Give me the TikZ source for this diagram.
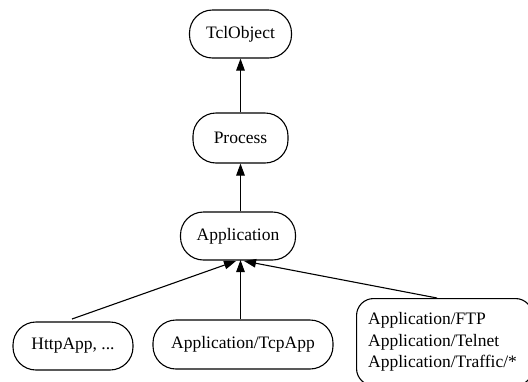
\documentclass[tikz,border=0pt]{standalone}
\usepackage{fontspec}
\setmainfont{Liberation Serif}
\usetikzlibrary{arrows.meta}
\begin{document}
\begin{tikzpicture}[x=1pt,y=-1pt,
  cls/.style={draw,line width=1.1pt,rounded corners=23pt,inner sep=0pt,
    font=\fontsize{17.5}{21.5}\selectfont},
  inh/.style={line width=1.1pt,-{Triangle[length=12pt,width=8.5pt]}}]
\clip (0,0) rectangle (528,381);
\useasboundingbox (0,0) rectangle (528,381);
\node[cls,minimum width=102pt,minimum height=48pt] (tcl) at (240.5,34) {TclObject};
\node[cls,minimum width=95pt,minimum height=50pt] (proc) at (240.5,138) {Process};
\node[cls,minimum width=115pt,minimum height=48pt] (app) at (238,236) {Application};
\node[cls,minimum width=120pt,minimum height=48pt] (http) at (73,346) {HttpApp, ...};
\node[cls,minimum width=180pt,minimum height=49pt] (tcp) at (243,344.5) {Application/TcpApp};
\node[cls,rounded corners=17pt,minimum width=176pt,minimum height=87pt,align=left,anchor=north west] (ftp) at (356,298) {};
\node[font=\fontsize{17.5}{21.5}\selectfont,align=left,anchor=west,inner sep=0pt] (ftptext) at (368,342) {Application/FTP\\Application/Telnet\\Application/Traffic/*};
\draw[inh] (proc.north) -- (tcl.south);
\draw[inh] (app.north -| proc.north) -- (proc.south);
\coordinate (h0) at (72,319);
\coordinate (h1) at (236,261);
\draw[inh] (h0) -- (h1);
\draw[inh] (tcp.north -| 240.5,0) -- (240.5,260);
\coordinate (f0) at (437,298);
\coordinate (f1) at (244,261);
\draw[inh] (f0) -- (f1);
\end{tikzpicture}
\end{document}
